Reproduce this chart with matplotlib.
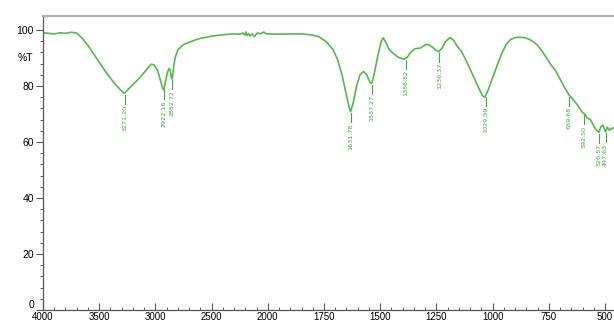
import numpy as np
import matplotlib
matplotlib.use("Agg")
import matplotlib.pyplot as plt
from matplotlib.ticker import FixedLocator
import matplotlib.transforms as mtransforms

# traced spectrum (wavenumber, %T)
wavenumber = [4000, 3950, 3900, 3850, 3800, 3750, 3700, 3650, 3600, 3550, 3500, 3450, 3400,
              3350, 3300, 3276, 3250, 3200, 3150, 3100, 3060, 3035, 3010, 2980, 2955, 2935,
              2925, 2910, 2895, 2880, 2868, 2858, 2850, 2840, 2825, 2800, 2750, 2700, 2650,
              2600, 2500, 2400, 2300, 2250, 2220, 2205, 2195, 2185, 2170, 2160, 2140, 2120,
              2105, 2090, 2070, 2050, 2035, 2020, 2000, 1950, 1900, 1850, 1800, 1770, 1740,
              1710, 1690, 1670, 1655, 1640, 1632, 1620, 1605, 1590, 1575, 1560, 1545, 1537,
              1525, 1510, 1495, 1486, 1475, 1460, 1440, 1420, 1395, 1380, 1365, 1345, 1320,
              1300, 1285, 1270, 1255, 1240, 1225, 1210, 1190, 1175, 1160, 1140, 1120, 1100,
              1080, 1060, 1045, 1035, 1020, 1000, 980, 960, 940, 920, 900, 880, 860, 840,
              818, 800, 780, 760, 740, 720, 700, 680, 660, 640, 620, 600, 590, 580, 565, 555,
              545, 535, 527, 518, 510, 502, 497, 490, 480, 470, 460]
transmittance = [99.0, 98.8, 98.6, 99.0, 98.8, 99.2, 98.9, 97.0, 94.5, 91.5, 88.5, 85.5, 82.8,
                 80.3, 78.2, 77.3, 78.5, 80.5, 82.5, 84.8, 86.8, 87.8, 87.5, 85.5, 82.0, 79.0,
                 78.6, 81.5, 84.5, 86.2, 85.8, 83.0, 82.5, 86.0, 90.0, 93.0, 94.8, 95.6, 96.4,
                 97.0, 97.8, 98.3, 98.6, 98.5, 98.9, 98.2, 99.3, 98.0, 98.7, 97.8, 98.6, 97.6,
                 98.4, 99.0, 98.6, 98.9, 99.3, 98.7, 98.6, 98.5, 98.6, 98.6, 98.2, 97.5, 95.8,
                 93.0, 89.5, 84.0, 78.5, 73.0, 70.8, 74.0, 80.0, 84.0, 85.2, 84.0, 81.2, 81.0,
                 85.0, 91.0, 96.0, 97.2, 95.5, 93.0, 91.5, 90.3, 89.5, 90.2, 92.0, 93.3, 93.6,
                 94.7, 94.8, 94.0, 93.0, 92.2, 93.5, 95.8, 97.3, 96.5, 94.5, 92.5, 89.5, 86.0,
                 82.5, 79.0, 76.5, 76.0, 78.5, 83.0, 87.2, 91.5, 94.8, 96.6, 97.3, 97.4, 97.3, 96.8,
                 95.8, 94.5, 92.5, 90.0, 87.5, 85.5, 82.5, 79.5, 76.8, 75.0, 73.0, 70.5, 70.0, 68.6,
                 68.0, 66.5, 65.0, 64.0, 63.5, 65.5, 66.0, 64.5, 63.6, 65.3, 64.2, 65.0, 64.8]

peak_wn = [3271.20, 2922.16, 2852.72, 1631.78, 1537.27, 1386.82, 1236.37, 1029.99,
           659.68, 592.50, 526.57, 497.63]
peak_labels = ["3271.20", "2922.16", "2852.72", "1631.78", "1537.27", "1386.82",
               "1236.37", "1029.99", "659.68", "592.50", "526.57", "497.63"]

xticks_major = [4000, 3500, 3000, 2500, 2000, 1750, 1500, 1250, 1000, 750, 500]
yticks_major = [0, 20, 40, 60, 80, 100]


def forward(x):
    x = np.asarray(x, dtype=float)
    return np.where(x >= 2000, (x - 2000) / 500.0, (x - 2000) / 250.0)


def inverse(u):
    u = np.asarray(u, dtype=float)
    return np.where(u >= 0, u * 500.0 + 2000, u * 250.0 + 2000)


line_color = "#55b84f"
text_color = "#3faa3a"
axis_color = "#555555"

fig = plt.figure(figsize=(6.14, 3.24), dpi=100)
ax = fig.add_axes([43 / 614, 14 / 324, 571 / 614, 294 / 324])
ax.set_xscale("function", functions=(forward, inverse))

ax.plot(wavenumber, transmittance, color=line_color, lw=1.2)

# peak labels
for wn, lab in zip(peak_wn, peak_labels):
    t = np.interp(wn, wavenumber[::-1], transmittance[::-1])
    ax.plot([wn, wn], [t - 0.6, t - 3.8], color=text_color, lw=0.8)
    ax.text(wn, t - 4.2, lab, rotation=90, ha="center", va="top",
            fontsize=4.6, color=text_color)

ax.set_xlim(4000, 460)
ax.set_ylim(0, 105)

ax.xaxis.set_major_locator(FixedLocator(xticks_major))
minor_x = [v for v in range(4000, 2000, -100)] + [v for v in range(2000, 450, -50)]
minor_x = [v for v in minor_x if v not in xticks_major]
ax.xaxis.set_minor_locator(FixedLocator(minor_x))
ax.set_xticklabels([str(v) for v in xticks_major])

ax.yaxis.set_major_locator(FixedLocator(yticks_major))
ax.yaxis.set_minor_locator(FixedLocator([v for v in range(0, 104, 4) if v % 20 != 0]))
ax.set_yticklabels([str(v) for v in yticks_major])

ax.tick_params(axis="x", which="major", direction="in", length=5, width=0.8,
               color=axis_color, labelsize=7, pad=1.5)
ax.tick_params(axis="x", which="minor", direction="in", length=2.5, width=0.7,
               color=axis_color)
ax.tick_params(axis="y", which="major", direction="out", length=5, width=0.8,
               color=axis_color, labelsize=7.5, pad=1.5)
ax.tick_params(axis="y", which="minor", direction="out", length=2.5, width=0.7,
               color=axis_color)
for lbl in ax.get_xticklabels() + ax.get_yticklabels():
    lbl.set_family("Liberation Sans")

# lift the "0" label a little so it clears the 4000 label below
zero_lbl = ax.get_yticklabels()[0]
zero_lbl.set_transform(zero_lbl.get_transform() +
                       mtransforms.ScaledTranslation(0, 4 / 72, fig.dpi_scale_trans))

trans = mtransforms.blended_transform_factory(ax.transAxes, ax.transData)
ax.text(-0.018, 90, "%T", transform=trans, ha="right", va="center",
        fontsize=7.5, family="Liberation Sans")

ax.spines["right"].set_visible(False)
ax.spines["top"].set_color("#b0b0b0")
ax.spines["top"].set_linewidth(1.6)
ax.spines["left"].set_color(axis_color)
ax.spines["bottom"].set_color(axis_color)
ax.spines["left"].set_linewidth(0.9)
ax.spines["bottom"].set_linewidth(0.9)

fig.savefig("out.png", dpi=100)
